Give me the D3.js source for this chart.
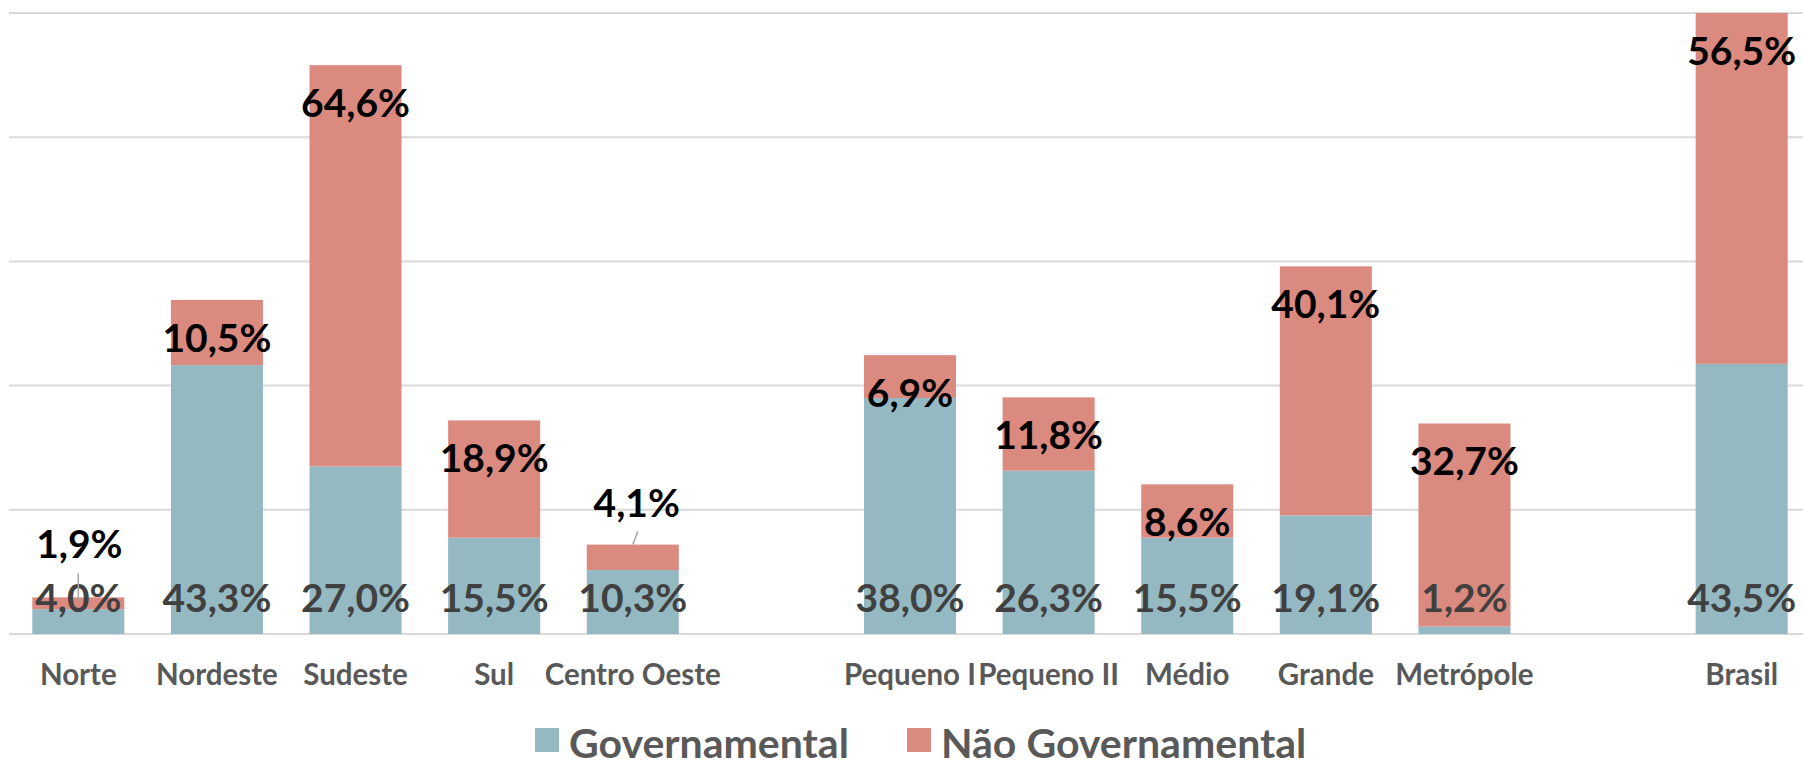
<!DOCTYPE html>
<html>
<head>
<meta charset="utf-8">
<title>Governamental x Não Governamental</title>
<script src="https://d3js.org/d3.v7.min.js"></script>
<style>
  body { margin: 0; background: #fff; }
  text { font-family: Lato, "Open Sans", sans-serif; font-weight: bold; }
</style>
</head>
<body>
<div id="chart"></div>
<script>
// categories (blank slots separate the groups)
var categories = ["Norte", "Nordeste", "Sudeste", "Sul", "Centro Oeste", "gap1",
                  "Pequeno I", "Pequeno II", "Médio", "Grande", "Metrópole", "gap2", "Brasil"];
var governamental    = [4.0, 43.3, 27.0, 15.5, 10.3, null, 38.0, 26.3, 15.5, 19.1, 1.2, null, 43.5];
var naoGovernamental = [1.9, 10.5, 64.6, 18.9, 4.1, null, 6.9, 11.8, 8.6, 40.1, 32.7, null, 56.5];
var gridTicks = [0, 20, 40, 60, 80, 100];
var seriesNames = ["Governamental", "Não Governamental"];
var colors = ["#95b9c3", "#db8a80"];

var width = 1803, height = 762;
var plotLeft = 9, plotRight = 1811, plotTop = 13, plotBottom = 634;

var svg = d3.select("#chart").append("svg")
  .attr("width", width)
  .attr("height", height);

var x = d3.scaleBand()
  .domain(categories)
  .range([plotLeft, plotRight])
  .paddingInner(0.336)
  .paddingOuter(0.168);

var y = d3.scaleLinear()
  .domain([0, 100])
  .range([plotBottom, plotTop]);

// gridlines
svg.append("g")
  .selectAll("line")
  .data(gridTicks)
  .enter().append("line")
    .attr("x1", plotLeft)
    .attr("x2", width)
    .attr("y1", function(d) { return y(d); })
    .attr("y2", function(d) { return y(d); })
    .attr("stroke", "#d9d9d9")
    .attr("stroke-width", 2);

var rows = categories.map(function(c, i) {
  return { cat: c, gov: governamental[i], ng: naoGovernamental[i] };
}).filter(function(d) { return d.gov !== null; });

// bars
var bars = svg.append("g");
bars.selectAll(".gov")
  .data(rows)
  .enter().append("rect")
    .attr("class", "gov")
    .attr("x", function(d) { return x(d.cat); })
    .attr("width", x.bandwidth())
    .attr("y", function(d) { return y(d.gov); })
    .attr("height", function(d) { return y(0) - y(d.gov); })
    .attr("fill", colors[0]);

bars.selectAll(".ng")
  .data(rows)
  .enter().append("rect")
    .attr("class", "ng")
    .attr("x", function(d) { return x(d.cat); })
    .attr("width", x.bandwidth())
    .attr("y", function(d) { return y(d.gov + d.ng); })
    .attr("height", function(d) { return y(d.gov) - y(d.gov + d.ng); })
    .attr("fill", colors[1]);

function fmt(v) { return v.toFixed(1).replace(".", ",") + "%"; }

// gov labels at inside base
svg.append("g")
  .selectAll("text")
  .data(rows)
  .enter().append("text")
    .attr("x", function(d) { return x(d.cat) + x.bandwidth() / 2; })
    .attr("y", plotBottom - 22)
    .attr("text-anchor", "middle")
    .attr("font-size", 39)
    .attr("fill", "#404040")
    .text(function(d) { return fmt(d.gov); });

// labels that were dragged above the bar, with leader lines
var moved = {
  "Norte":        { dx: 1, rise: 39, lx1: 0, ly1: -24, lx2: 0, ly2: 3 },
  "Centro Oeste": { dx: 4, rise: 28, lx1: 5, ly1: -13, lx2: 0, ly2: 0 }
};

var ngLabels = svg.append("g");
rows.forEach(function(d) {
  var cx = x(d.cat) + x.bandwidth() / 2;
  var top = y(d.gov + d.ng);
  var m = moved[d.cat];
  if (m) {
    ngLabels.append("line")
      .attr("x1", cx + m.lx1).attr("y1", top + m.ly1)
      .attr("x2", cx + m.lx2).attr("y2", top + m.ly2)
      .attr("stroke", "#a6a6a6")
      .attr("stroke-width", 1.5);
    ngLabels.append("text")
      .attr("x", cx + m.dx)
      .attr("y", top - m.rise)
      .attr("text-anchor", "middle")
      .attr("font-size", 39)
      .attr("fill", "#000")
      .text(fmt(d.ng));
  } else {
    ngLabels.append("text")
      .attr("x", cx)
      .attr("y", top + 52)
      .attr("text-anchor", "middle")
      .attr("font-size", 39)
      .attr("fill", "#000")
      .text(fmt(d.ng));
  }
});

// category axis labels
svg.append("g")
  .selectAll("text")
  .data(rows)
  .enter().append("text")
    .attr("x", function(d) { return x(d.cat) + x.bandwidth() / 2; })
    .attr("y", 685)
    .attr("text-anchor", "middle")
    .attr("font-size", 29.5)
    .attr("fill", "#595959")
    .text(function(d) { return d.cat; });

// legend
var legendX = [535, 907];
var legend = svg.append("g");
seriesNames.forEach(function(name, i) {
  legend.append("rect")
    .attr("x", legendX[i])
    .attr("y", 728)
    .attr("width", 24)
    .attr("height", 24)
    .attr("fill", colors[i]);
  legend.append("text")
    .attr("x", legendX[i] + 34)
    .attr("y", 758)
    .attr("font-size", 41)
    .attr("fill", "#595959")
    .text(name);
});
</script>
</body>
</html>
